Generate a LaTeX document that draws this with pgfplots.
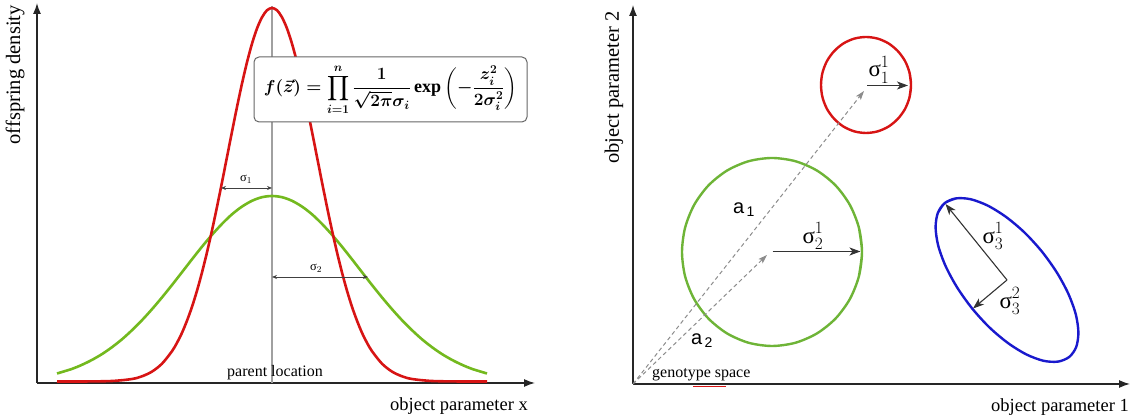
\documentclass[border=0pt]{standalone}
\usepackage{fontspec}
\setmainfont{Liberation Serif}
\setsansfont{Liberation Sans}
\usepackage{amsmath}
\usepackage{pgfplots}
\pgfplotsset{compat=1.18}
\usetikzlibrary{arrows.meta}
\definecolor{cred}{RGB}{215,20,20}
\definecolor{cgreen}{RGB}{115,185,30}
\definecolor{cgreentwo}{RGB}{110,180,55}
\definecolor{cblue}{RGB}{25,25,205}
\definecolor{cgray}{RGB}{160,160,160}
\definecolor{cdash}{RGB}{140,140,140}
\newcommand{\us}{\text{σ}}
\newcommand{\lblfont}{\fontsize{18.5}{20}\selectfont}
\newcommand{\ylblfont}{\fontsize{20.5}{22}\selectfont}
\newcommand{\smlfont}{\fontsize{16}{18}\selectfont}
\begin{document}
\begin{tikzpicture}
\path[use as bounding box] (0pt,0pt) rectangle (1135pt,419pt);
% ---------------- left panel ----------------
\begin{axis}[scale only axis, anchor=south west, at={(37pt,36pt)}, width=498pt, height=380pt,
  axis lines=left, ticks=none, clip=false,
  axis line style={line width=1.3pt, draw=black!85, -{Latex[length=11pt,width=8pt]}},
  xmin=-235, xmax=263, ymin=0, ymax=380]
\addplot[cgray, line width=2pt] coordinates {(0,0) (0,377)};
\addplot[cgreen, line width=2.6pt, smooth] coordinates {(-215,9.5) (-200,14.1) (-190,18.2) (-180,23.1) (-170,28.9) (-160,35.8) (-150,43.7) (-140,52.8) (-130,62.8) (-120,73.8) (-110,85.6) (-100,98.0) (-90,110.8) (-80,123.7) (-70,136.3) (-60,148.2) (-50,159.1) (-40,168.7) (-30,176.4) (-20,182.2) (-10,185.8) (0,187) (10,185.8) (20,182.2) (30,176.4) (40,168.7) (50,159.1) (60,148.2) (70,136.3) (80,123.7) (90,110.8) (100,98.0) (110,85.6) (120,73.8) (130,62.8) (140,52.8) (150,43.7) (160,35.8) (170,28.9) (180,23.1) (190,18.2) (200,14.1) (215,9.5)};
\addplot[cred, line width=2.6pt, smooth] coordinates {(-215,1.5) (-190,1.5) (-160,2.0) (-140,4.0) (-130,6.7) (-120,11.4) (-110,19.3) (-100,31.8) (-95,40.2) (-90,50.2) (-85,62.3) (-80,76.2) (-75,92.3) (-70,110.5) (-65,130.7) (-60,152.6) (-55,176.1) (-50,200.8) (-45,226.0) (-40,251.3) (-35,276.0) (-30,299.4) (-25,320.7) (-20,339.3) (-15,354.5) (-10,365.7) (-5,372.7) (0,375) (5,372.7) (10,365.7) (15,354.5) (20,339.3) (25,320.7) (30,299.4) (35,276.0) (40,251.3) (45,226.0) (50,200.8) (55,176.1) (60,152.6) (65,130.7) (70,110.5) (75,92.3) (80,76.2) (85,62.3) (90,50.2) (95,40.2) (100,31.8) (110,19.3) (120,11.4) (130,6.7) (140,4.0) (160,2.0) (190,1.5) (215,1.5)};
\addplot[black!75, line width=0.8pt, <->, >={Stealth[length=5pt,width=4pt]}] coordinates {(-51,195) (0,195)};
\addplot[black!75, line width=0.8pt, <->, >={Stealth[length=5pt,width=4pt]}] coordinates {(0,106) (96,106)};
\end{axis}
% ---------------- right panel ----------------
\begin{axis}[scale only axis, anchor=south west, at={(633pt,35pt)}, width=497pt, height=379pt,
  axis lines=left, ticks=none, clip=false,
  axis line style={line width=1.3pt, draw=black!85, -{Latex[length=11pt,width=8pt]}},
  xmin=0, xmax=497, ymin=0, ymax=379]
\addplot[cred, line width=1.2pt] coordinates {(60,-2.2) (93,-2.2)};
\addplot[cred, line width=2.4pt, smooth] coordinates {(276.5,286.6) (278,299) (276.5,311.4) (272,323) (264.8,332.9) (255.5,340.6) (244.6,345.4) (233,347) (221.4,345.4) (210.5,340.6) (201.2,332.9) (194,323) (189.5,311.4) (188,299) (189.5,286.6) (194,275) (201.2,265.1) (210.5,257.4) (221.4,252.6) (233,251) (244.6,252.6) (255.5,257.4) (264.8,265.1) (272,275) (276.5,286.6) (278,299) (276.5,311.4)};
\addplot[cgreentwo, line width=2.4pt, smooth] coordinates {(225.9,107.7) (229,132) (225.9,156.3) (216.9,179) (202.6,198.5) (184,213.4) (162.3,222.8) (139,226) (115.7,222.8) (94,213.4) (75.4,198.5) (61.1,179) (52.1,156.3) (49,132) (52.1,107.7) (61.1,85) (75.4,65.5) (94,50.6) (115.7,41.2) (139,38) (162.3,41.2) (184,50.6) (202.6,65.5) (216.9,85) (225.9,107.7) (229,132) (225.9,156.3)};
\addplot[cblue, line width=2.4pt, smooth] coordinates {(322.9,185.6) (311.7,180.9) (304.8,171.0) (302.6,156.5) (305.2,138.4) (312.6,117.9) (324.1,96.6) (339.0,75.7) (356.3,56.7) (374.9,41.0) (393.3,29.6) (410.5,23.2) (425.1,22.4) (436.3,27.1) (443.2,37.0) (445.4,51.5) (442.8,69.6) (435.4,90.1) (423.9,111.4) (409.0,132.3) (391.7,151.3) (373.1,167.0) (354.7,178.4) (337.5,184.8) (322.9,185.6) (311.7,180.9) (304.8,171.0)};
\addplot[cdash, line width=1pt, dash pattern=on 4pt off 3pt, ->, >={Stealth[length=9pt,width=6pt,inset=2pt]}] coordinates {(0,0) (231,293)};
\addplot[cdash, line width=1pt, dash pattern=on 4pt off 3pt, ->, >={Stealth[length=9pt,width=6pt,inset=2pt]}] coordinates {(0,0) (134,129)};
\addplot[black!80, line width=1.1pt, ->, >={Stealth[length=11pt,width=8pt,inset=3pt]}] coordinates {(234,298.5) (275,298.5)};
\addplot[black!80, line width=1.1pt, ->, >={Stealth[length=11pt,width=8pt,inset=3pt]}] coordinates {(139.5,132.5) (227.5,132.5)};
\addplot[black!80, line width=1.1pt, ->, >={Stealth[length=11pt,width=8pt,inset=3pt]}] coordinates {(374,104) (312.5,180)};
\addplot[black!80, line width=1.1pt, ->, >={Stealth[length=11pt,width=8pt,inset=3pt]}] coordinates {(374,104) (340,75.5)};
\end{axis}
% ---------------- text (pixel coordinates: x, 419-y) ----------------
\node[draw=black!60, fill=white, rounded corners=5pt, line width=1pt, minimum width=273pt, minimum height=65pt, inner sep=0pt] at (390.5pt,329.5pt) {{\fontsize{18}{20}\selectfont\boldmath $\displaystyle f(\vec z) = \prod_{i=1}^{n} \frac{1}{\sqrt{2\pi}\sigma_i}\exp\left(-\frac{z_i^2}{2\sigma_i^2}\right)$}};
\node[inner sep=0pt, anchor=south] at (246pt,235pt) {{\fontsize{12.5}{14}\selectfont $\us_1$}};
\node[inner sep=0pt, anchor=south] at (316pt,146pt) {{\fontsize{12.5}{14}\selectfont $\us_2$}};
\node[inner sep=0pt, anchor=base] at (275pt,42pt) {{\smlfont parent location}};
\node[inner sep=0pt, anchor=north east] at (528pt,22pt) {{\lblfont object parameter x}};
\node[inner sep=0pt, rotate=90, anchor=east] at (15pt,414pt) {{\ylblfont offspring density}};
\node[inner sep=0pt] at (879pt,349pt) {{\fontsize{23}{26}\selectfont $\us^1_1$}};
\node[inner sep=0pt] at (813pt,183pt) {{\fontsize{23}{26}\selectfont $\us^1_2$}};
\node[inner sep=0pt] at (993pt,183pt) {{\fontsize{23}{26}\selectfont $\us^1_3$}};
\node[inner sep=0pt] at (1010pt,118pt) {{\fontsize{23}{26}\selectfont $\us^2_3$}};
\node[inner sep=0pt] at (744pt,209pt) {{\fontsize{20}{22}\selectfont\sffamily a$_{\,\text{1}}$}};
\node[inner sep=0pt] at (702pt,78pt) {{\fontsize{20}{22}\selectfont\sffamily a$_{\,\text{2}}$}};
\node[inner sep=0pt, anchor=base west] at (652pt,41pt) {{\smlfont genotype space}};
\node[inner sep=0pt, anchor=north east] at (1129pt,21pt) {{\lblfont object parameter 1}};
\node[inner sep=0pt, rotate=90, anchor=east] at (614pt,408pt) {{\ylblfont object parameter 2}};
\end{tikzpicture}
\end{document}
